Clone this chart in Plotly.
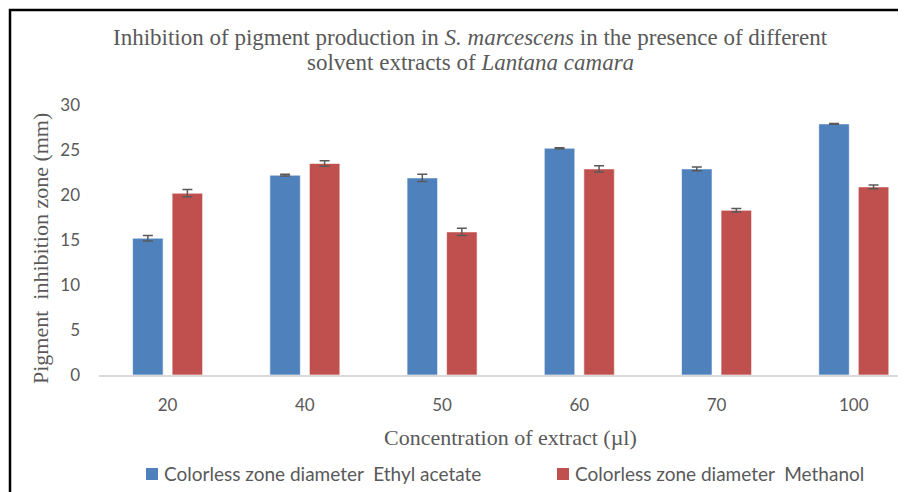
import plotly.graph_objects as go

categories = ["20", "40", "50", "60", "70", "100"]
ethyl_acetate = [15.2, 22.2, 21.9, 25.2, 22.9, 27.9]
ethyl_err = [0.3, 0.1, 0.4, 0.05, 0.2, 0.05]
methanol = [20.2, 23.5, 15.9, 22.9, 18.3, 20.9]
methanol_err = [0.4, 0.3, 0.4, 0.35, 0.2, 0.2]
series_names = ["Colorless zone diameter  Ethyl acetate", "Colorless zone diameter  Methanol"]
series_colors = ["#4F81BD", "#C0504D"]

OFF = 8  # default page body margin
W, H = 906 - OFF, 492 - OFF
L, R_EDGE = 99 - OFF, 903 - OFF
T, B_EDGE = 105 - OFF, 375 - OFF

def px(x):  # screenshot x -> paper
    return (x - OFF - L) / (R_EDGE - L)

def py(y):  # screenshot y -> paper
    return (B_EDGE - (y - OFF)) / (B_EDGE - T)

err_style = dict(type="data", color="#595959", thickness=1.5, width=5, visible=True)
sans = "Lato, Open Sans, sans-serif"
serif = "Liberation Serif, serif"
grey = "#595959"

fig = go.Figure()
for name, vals, errs, col in [(series_names[0], ethyl_acetate, ethyl_err, series_colors[0]),
                              (series_names[1], methanol, methanol_err, series_colors[1])]:
    fig.add_trace(go.Bar(
        x=categories, y=vals, name=name,
        marker=dict(color=col, line=dict(color="rgba(255,255,255,0.6)", width=1)),
        error_y=dict(array=errs, **err_style), showlegend=False,
    ))

cat_w = 137.2
right_extra = (922.4 - 903) / cat_w

fig.update_layout(
    width=W, height=H,
    margin=dict(l=L, r=W - R_EDGE, t=T, b=H - B_EDGE, autoexpand=False),
    paper_bgcolor="white", plot_bgcolor="white",
    barmode="group", bargap=0.424, bargroupgap=0.228,
    xaxis=dict(type="category", range=[-0.5, 5.5 - right_extra],
               showline=True, linecolor="#D9D9D9", linewidth=1.5,
               ticks="", showgrid=False, ticklabelstandoff=14,
               tickfont=dict(family=sans, size=17, color=grey)),
    yaxis=dict(range=[0, 30], tickvals=[0, 5, 10, 15, 20, 25, 30], showgrid=False,
               zeroline=False, showline=False, ticks="", ticklabelstandoff=18,
               tickfont=dict(family=sans, size=17, color=grey)),
    font=dict(family=serif, color=grey),
)

annotations = [
    dict(text="Inhibition of pigment production in <i>S. marcescens</i> in the presence of different",
         x=px(470), y=py(37), xref="paper", yref="paper", showarrow=False,
         font=dict(family=serif, size=23, color=grey), xanchor="center", yanchor="middle"),
    dict(text="solvent extracts of <i>Lantana camara</i>",
         x=px(470), y=py(62), xref="paper", yref="paper", showarrow=False,
         font=dict(family=serif, size=23, color=grey), xanchor="center", yanchor="middle"),
    dict(text="Concentration of extract (µl)", x=px(510), y=py(437), xref="paper", yref="paper",
         showarrow=False, font=dict(family=serif, size=22, color=grey),
         xanchor="center", yanchor="middle"),
    dict(text="Pigment  inhibition zone (mm)", x=px(40), y=py(249), xref="paper", yref="paper",
         showarrow=False, textangle=-90, font=dict(family=serif, size=22, color=grey),
         xanchor="center", yanchor="middle"),
]

# legend: colour square + label for each series
legend_x = [146, 557]
for name, col, lx in zip(series_names, series_colors, legend_x):
    fig.add_shape(type="rect", xref="paper", yref="paper",
                  x0=px(lx), x1=px(lx + 12), y0=py(468), y1=py(480),
                  line=dict(width=0), fillcolor=col)
    annotations.append(dict(text=name, x=px(lx + 16), y=py(473), xref="paper", yref="paper",
                            showarrow=False, xanchor="left", yanchor="middle",
                            font=dict(family=sans, size=19, color=grey)))
fig.update_layout(annotations=annotations)

fig.add_shape(type="rect", xref="paper", yref="paper",
              x0=px(10), x1=px(930), y0=py(10), y1=py(520),
              line=dict(color="black", width=2.5), fillcolor="rgba(0,0,0,0)", layer="above")

fig.write_html("out.html")
